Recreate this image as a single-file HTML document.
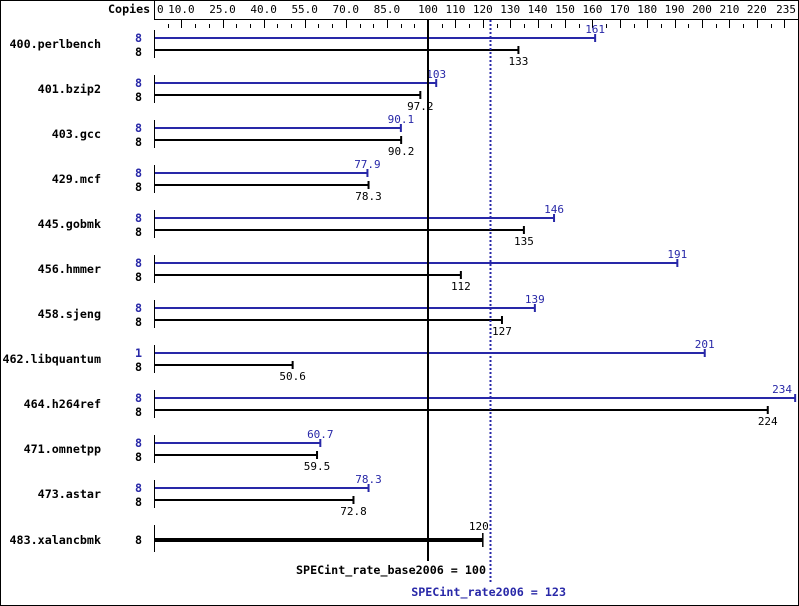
<!DOCTYPE html>
<html><head><meta charset="utf-8"><style>
body{margin:0;background:#fff}
svg{display:block}
text{font-family:"DejaVu Sans Mono","Liberation Mono",monospace;font-size:11px}
.b{font-weight:bold;font-size:11.7px}
</style></head><body>
<svg width="799" height="606" xmlns="http://www.w3.org/2000/svg">
<rect x="0.5" y="0.5" width="798" height="605" fill="#fff" stroke="#000"/>
<text x="108" y="13" class="b">Copies</text>
<line x1="154.5" y1="0" x2="154.5" y2="20" stroke="#000"/>
<line x1="154" y1="19.5" x2="799" y2="19.5" stroke="#000"/>
<g id="ticks" stroke="#000"></g>
<g id="lbl" fill="#000"></g>
<g id="rows"></g>
<line x1="428" y1="20" x2="428" y2="561" stroke="#000" stroke-width="2"/>
<line x1="490.5" y1="20" x2="490.5" y2="584" stroke="#2828a8" stroke-width="2" stroke-dasharray="2,2"/>
<text x="486" y="574" text-anchor="end" class="b">SPECint_rate_base2006 = 100</text>
<text x="566" y="596" text-anchor="end" class="b" fill="#2828a8">SPECint_rate2006 = 123</text>
</svg>
<script>
const X=v=>154+v*2.74;
const ns="http://www.w3.org/2000/svg";
function el(p,t,a,txt){const e=document.createElementNS(ns,t);for(const k in a)e.setAttribute(k,a[k]);if(txt!==undefined)e.textContent=txt;p.appendChild(e);return e;}
const tk=document.getElementById('ticks'),lb=document.getElementById('lbl'),rows=document.getElementById('rows');
const labs=[[0,"0"],[10,"10.0"],[25,"25.0"],[40,"40.0"],[55,"55.0"],[70,"70.0"],[85,"85.0"],[100,"100"]];
for(let v=110;v<=220;v+=10)labs.push([v,String(v)]);labs.push([235,"235"]);
const longs=new Set(labs.map(l=>l[0]));longs.add(230);
for(let v=5;v<=235;v+=5){const x=Math.round(X(v))+0.5;const L=longs.has(v);el(tk,'line',{x1:x,x2:x,y1:L?20:24,y2:28});}
labs.forEach(([v,s])=>{let x=X(v);let a='middle';if(v==0){x=157;a='start'}if(v==235){x=796;a='end'}el(lb,'text',{x:x,y:13,'text-anchor':a},s);});
const data=[["400.perlbench",8,161,8,133],["401.bzip2",8,103,8,97.2],["403.gcc",8,90.1,8,90.2],["429.mcf",8,77.9,8,78.3],["445.gobmk",8,146,8,135],["456.hmmer",8,191,8,112],["458.sjeng",8,139,8,127],["462.libquantum",1,201,8,50.6],["464.h264ref",8,234,8,224],["471.omnetpp",8,60.7,8,59.5],["473.astar",8,78.3,8,72.8]];
const B="#2828a8";
data.forEach((d,i)=>{const yb=38+45*i,yk=yb+12;
el(rows,'line',{x1:154.5,x2:154.5,y1:yb-8,y2:yk+8,stroke:'#000'});
el(rows,'text',{x:101,y:yb+10,'text-anchor':'end',class:'b'},d[0]);
el(rows,'text',{x:142,y:yb+4,'text-anchor':'end',class:'b',fill:B},d[1]);
el(rows,'text',{x:142,y:yk+6,'text-anchor':'end',class:'b'},d[3]);
const xb=X(d[2]),xk=X(d[4]);
el(rows,'line',{x1:155,x2:xb,y1:yb,y2:yb,stroke:B,'stroke-width':2});
el(rows,'line',{x1:xb,x2:xb,y1:yb-4,y2:yb+4,stroke:B,'stroke-width':2});
el(rows,'line',{x1:155,x2:xk,y1:yk,y2:yk,stroke:'#000','stroke-width':2});
el(rows,'line',{x1:xk,x2:xk,y1:yk-4,y2:yk+4,stroke:'#000','stroke-width':2});
let tx=xb,ta='middle';if(xb>770){tx=792;ta='end';}
el(rows,'text',{x:tx,y:yb-5,'text-anchor':ta,fill:B},String(d[2]));
el(rows,'text',{x:xk,y:yk+15,'text-anchor':'middle'},String(d[4]));
});
const yx=540;
el(rows,'line',{x1:154.5,x2:154.5,y1:yx-15,y2:yx+12,stroke:'#000'});
el(rows,'text',{x:101,y:yx+4,'text-anchor':'end',class:'b'},"483.xalancbmk");
el(rows,'text',{x:142,y:yx+4,'text-anchor':'end',class:'b'},"8");
el(rows,'line',{x1:155,x2:X(120),y1:yx,y2:yx,stroke:'#000','stroke-width':4});
el(rows,'line',{x1:X(120),x2:X(120),y1:yx-7,y2:yx+7,stroke:'#000','stroke-width':1.5});
el(rows,'text',{x:X(120)-4,y:yx-10,'text-anchor':'middle'},"120");
</script>
</body></html>
